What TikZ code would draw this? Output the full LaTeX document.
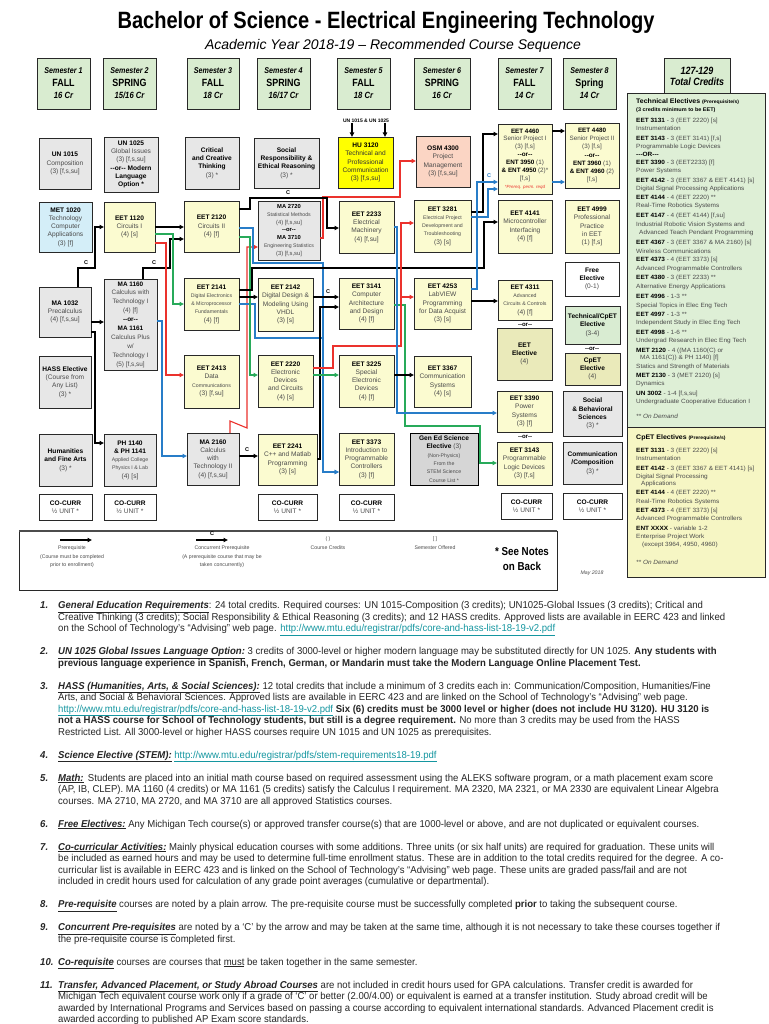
\documentclass[tikz,border=0pt]{standalone}
\usepackage{fontspec}
\setmainfont{Liberation Sans}
\newfontfamily\cond[FakeStretch=0.85]{Liberation Sans}
\newfontfamily\notef[FakeStretch=0.955]{Liberation Sans}
\newfontfamily\panelf[FakeStretch=1.06]{Liberation Sans}
\usetikzlibrary{arrows.meta}
\definecolor{hdrcol}{RGB}{217,236,208}
\definecolor{yelc}{RGB}{251,251,208}
\definecolor{gryc}{RGB}{231,231,231}
\definecolor{metcol}{RGB}{212,238,248}
\definecolor{hucol}{RGB}{255,255,0}
\definecolor{osmcol}{RGB}{251,213,196}
\definecolor{olvcol}{RGB}{234,234,186}
\definecolor{grncol}{RGB}{217,236,210}
\definecolor{techcol}{RGB}{222,239,214}
\definecolor{cpetcol}{RGB}{246,246,196}
\definecolor{gencol}{RGB}{214,214,214}
\definecolor{bord}{RGB}{40,40,40}
\definecolor{dtext}{RGB}{75,75,75}
\definecolor{redc}{RGB}{235,50,45}
\definecolor{bluc}{RGB}{40,125,200}
\definecolor{grnc}{RGB}{40,170,90}
\definecolor{linkc}{RGB}{20,150,160}
\newcommand\cd[1]{{\bfseries\color{black}#1}}
\newcommand\sm[1]{{\fontsize{5.2}{6}\selectfont #1}}
\newcommand\hs[1]{{\itshape\bfseries\fontsize{8.4}{10}\selectfont #1}}
\newcommand\hb[1]{{\bfseries\fontsize{10.5}{12}\selectfont #1}}
\newcommand\hc[1]{{\itshape\bfseries\fontsize{9}{10}\selectfont #1}}
\newcommand\cbox[7]{\node[#6,minimum width={(#4-#2)*1pt},minimum height={(#5-#3)*1pt}] (#1) at ({(#2+#4)/2},{(#3+#5)/2}) {#7};}
\newcount\tlc
\newcommand\tl[2]{\global\advance\tlc by 1\relax\node[rt] (tl\the\tlc) at (636,#1) {#2};}
\newcommand\nl[2]{\global\advance\tlc by 1\relax\node[nt] (nl\the\tlc) at (58,{605+11.5*#1+3.5}) {#2};}
\newcommand\nn[2]{\global\advance\tlc by 1\relax\node[nt,font=\notef\bfseries\itshape\fontsize{10}{11}\selectfont] (nn\the\tlc) at (40,{605+11.5*#1+3.5}) {#2};}
\newcommand\uh[1]{\underline{\textbf{\textit{#1}}}}
\newcommand\lk[1]{{\color{linkc}\underline{#1}}}
\newcommand\ec[1]{{\bfseries\color{black}#1}}
\newcommand\orx{-{}-or-{}-}
\begin{document}
\begin{tikzpicture}[x=1pt,y=-1pt,
  box/.style={draw=bord,line width=0.8pt,inner sep=0pt,outer sep=0pt,align=center,text=dtext,font=\fontsize{6.6}{8.3}\selectfont},
  yel/.style={box,fill=yelc},
  gry/.style={box,fill=gryc},
  hdr/.style={box,fill=hdrcol,text=black,font=\cond\fontsize{9}{12.5}\selectfont},
  wht/.style={box,fill=white},
  conn/.style={line width=1.1pt,-{Triangle[length=4.5pt,width=4.2pt]}},
  blk/.style={conn,draw=black},
  rdc/.style={conn,draw=redc},
  blc/.style={conn,draw=bluc},
  grc/.style={conn,draw=grnc},
  clab/.style={font=\bfseries\fontsize{5.5}{6}\selectfont,inner sep=0pt},
  ortx/.style={font=\bfseries\fontsize{6}{7}\selectfont,inner sep=0pt},
  rt/.style={anchor=base west,inner sep=0pt,text=dtext,font=\panelf\fontsize{6.1}{7}\selectfont},
  nt/.style={anchor=base west,inner sep=0pt,text=black!85,font=\notef\fontsize{10}{11}\selectfont},
  lg/.style={inner sep=0pt,text=dtext,align=center,font=\fontsize{5.2}{8.6}\selectfont}
]
\useasboundingbox (0,0) rectangle (768,1024);
\fill[white] (0,0) rectangle (768,1024);
% title
\node[inner sep=0pt,font=\cond\bfseries\fontsize{23.6}{26}\selectfont] (title) at (386,22) {Bachelor of Science - Electrical Engineering Technology};
\node[inner sep=0pt,font=\itshape\fontsize{14}{16}\selectfont] (subtitle) at (393,46) {Academic Year 2018-19 -- Recommended Course Sequence};
% semester headers
\cbox{s1}{37}{58}{90}{109}{hdr}{\hs{Semester 1}\\\hb{FALL}\\\hc{16 Cr}}
\cbox{s2}{103}{58}{156}{109}{hdr}{\hs{Semester 2}\\\hb{SPRING}\\\hc{15/16 Cr}}
\cbox{s3}{187}{58}{239}{109}{hdr}{\hs{Semester 3}\\\hb{FALL}\\\hc{18 Cr}}
\cbox{s4}{257}{58}{310}{109}{hdr}{\hs{Semester 4}\\\hb{SPRING}\\\hc{16/17 Cr}}
\cbox{s5}{337}{58}{390}{109}{hdr}{\hs{Semester 5}\\\hb{FALL}\\\hc{18 Cr}}
\cbox{s6}{414}{58}{470}{109}{hdr}{\hs{Semester 6}\\\hb{SPRING}\\\hc{16 Cr}}
\cbox{s7}{498}{58}{551}{109}{hdr}{\hs{Semester 7}\\\hb{FALL}\\\hc{14 Cr}}
\cbox{s8}{563}{58}{616}{109}{hdr}{\hs{Semester 8}\\\hb{Spring}\\\hc{14 Cr}}
\cbox{tot}{664}{58}{730}{95}{hdr}{{\itshape\bfseries\fontsize{10.5}{12}\selectfont 127-129}\\[-1pt]{\itshape\bfseries\fontsize{10.5}{12}\selectfont Total Credits}}
% right panel
\cbox{techp}{627}{93}{765}{427}{box,fill=techcol}{}
\cbox{cpetp}{627}{427}{765}{577}{box,fill=cpetcol}{}
\tl{104}{{\bfseries\color{black}\fontsize{6.6}{7}\selectfont Technical Electives} {\bfseries\color{black}\fontsize{4.8}{5}\selectfont (Prerequisite/s)}}
\tl{112}{{\bfseries\color{black}\fontsize{5.2}{6}\selectfont (3 credits minimum to be EET)}}
\tl{123}{\ec{EET 3131} - 3 (EET 2220) [s]}
\tl{131}{Instrumentation}
\tl{141}{\ec{EET 3143} - 3 (EET 3141) [f,s]}
\tl{149}{Programmable Logic Devices}
\tl{157}{\ec{---OR---}}
\tl{165}{\ec{EET 3390} - 3 (EET2233) [f]}
\tl{173}{Power Systems}
\tl{183}{\ec{EET 4142} - 3 (EET 3367 \& EET 4141) [s]}
\tl{191}{Digital Signal Processing Applications}
\tl{200}{\ec{EET 4144} - 4 (EET 2220) **}
\tl{208}{Real-Time Robotics Systems}
\tl{218}{\ec{EET 4147} - 4 (EET 4144) [f,su]}
\tl{226}{Industrial Robotic Vision Systems and}
\tl{234}{\hspace{3pt}Advanced Teach Pendant Programming}
\tl{244}{\ec{EET 4367} - 3 (EET 3367 \& MA 2160) [s]}
\tl{253}{Wireless Communications}
\tl{261}{\ec{EET 4373} - 4 (EET 3373) [s]}
\tl{270}{Advanced Programmable Controllers}
\tl{279}{\ec{EET 4380} - 3 (EET 2233) **}
\tl{288}{Alternative Energy Applications}
\tl{298}{\ec{EET 4996} - 1-3 **}
\tl{307}{Special Topics in Elec Eng Tech}
\tl{316}{\ec{EET 4997} - 1-3 **}
\tl{324}{Independent Study in Elec Eng Tech}
\tl{334}{\ec{EET 4998} - 1-6 **}
\tl{342}{Undergrad Research in Elec Eng Tech}
\tl{352}{\ec{MET 2120} - 4 ((MA 1160(C) or}
\tl{359}{\hspace{4pt}MA 1161(C)) \& PH 1140) [f]}
\tl{368}{Statics and Strength of Materials}
\tl{377}{\ec{MET 2130} - 3 (MET 2120) [s]}
\tl{385}{Dynamics}
\tl{395}{\ec{UN 3002} - 1-4 [f,s,su]}
\tl{403}{Undergraduate Cooperative Education I}
\tl{418}{\itshape ** On Demand}
\tl{439}{{\bfseries\color{black}\fontsize{6.6}{7}\selectfont CpET Electives} {\bfseries\color{black}\fontsize{4.8}{5}\selectfont (Prerequisite/s)}}
\tl{452}{\ec{EET 3131} - 3 (EET 2220) [s]}
\tl{460}{Instrumentation}
\tl{470}{\ec{EET 4142} - 3 (EET 3367 \& EET 4141) [s]}
\tl{478}{Digital Signal Processing}
\tl{485}{\hspace{5pt}Applications}
\tl{494}{\ec{EET 4144} - 4 (EET 2220) **}
\tl{503}{Real-Time Robotics Systems}
\tl{512}{\ec{EET 4373} - 4 (EET 3373) [s]}
\tl{520}{Advanced Programmable Controllers}
\tl{530}{\ec{ENT XXXX} - variable 1-2}
\tl{538}{Enterprise Project Work}
\tl{546}{\hspace{6pt}(except 3964, 4950, 4960)}
\tl{564}{\itshape ** On Demand}
% row A
\cbox{un1015}{39}{138}{91}{189}{gry}{\cd{UN 1015}\\Composition\\(3) [f,s,su]}
\cbox{un1025}{104}{137}{158}{192}{gry}{\cd{UN 1025}\\Global Issues\\(3) [f,s,su]\\\cd{\orx{} Modern}\\\cd{Language}\\\cd{Option *}}
\cbox{crit}{185}{137}{239}{189}{gry}{\cd{Critical}\\\cd{and Creative}\\\cd{Thinking}\\(3) *}
\cbox{social}{254}{138}{319}{188}{gry}{\cd{Social}\\\cd{Responsibility \&}\\\cd{Ethical Reasoning}\\(3) *}
\cbox{hu3120}{338}{137}{393}{188}{box,fill=hucol,text=black!80}{\cd{HU 3120}\\Technical and\\Professional\\Communication\\(3) [f,s,su]}
\cbox{osm4300}{416}{136}{470}{187}{box,fill=osmcol}{\cd{OSM 4300}\\Project\\Management\\(3) [f,s,su]}
\cbox{eet4460}{498}{124}{552}{194}{yel,font=\fontsize{6.3}{7.9}\selectfont}{\cd{EET 4460}\\Senior Project I\\(3) [f,s]\\\cd{\orx}\\\cd{ENT 3950} (1)\\\cd{\& ENT 4950} (2)*\\{}[f,s]\\{\color{redc}\itshape\fontsize{4.5}{5}\selectfont *Prereq. perm. reqd}}
\cbox{eet4480}{565}{123}{619}{188}{yel,font=\fontsize{6.3}{8.3}\selectfont}{\cd{EET 4480}\\Senior Project II\\(3) [f,s]\\\cd{\orx}\\\cd{ENT 3960} (1)\\\cd{\& ENT 4960} (2)\\{}[f,s]}
\node[inner sep=0pt,font=\bfseries\fontsize{5}{6}\selectfont] (unlab) at (366,121) {UN 1015 \& UN 1025};
\draw[blk] (unlab.south -| 352,0) -- (hu3120.north -| 352,0);
\draw[blk] (unlab.south -| 385,0) -- (hu3120.north -| 385,0);
% row B
\cbox{met1020}{39}{202}{92}{252}{box,fill=metcol}{\cd{MET 1020}\\Technology\\Computer\\Applications\\(3) [f]}
\cbox{eet1120}{104}{202}{155}{252}{yel}{\cd{EET 1120}\\Circuits I\\(4) [s]}
\cbox{eet2120}{184}{201}{239}{252}{yel}{\cd{EET 2120}\\Circuits II\\(4) [f]}
\cbox{ma2720}{258}{201}{320}{260}{gry,font=\fontsize{5.8}{7.9}\selectfont}{\cd{MA 2720}\\\sm{Statistical Methods}\\(4) [f,s,su]\\\cd{\orx}\\\cd{MA 3710}\\\sm{Engineering Statistics}\\(3) [f,s,su]}
\cbox{eet2233}{339}{201}{394}{253}{yel}{\cd{EET 2233}\\Electrical\\Machinery\\(4) [f,su]}
\cbox{eet3281}{414}{200}{471}{252}{yel}{\cd{EET 3281}\\\sm{Electrical Project}\\\sm{Development and}\\\sm{Troubleshooting}\\(3) [s]}
\cbox{eet4141}{498}{200}{552}{253}{yel}{\cd{EET 4141}\\Microcontroller\\Interfacing\\(4) [f]}
\cbox{eet4999}{565}{200}{619}{253}{yel}{\cd{EET 4999}\\Professional\\Practice\\in EET\\(1) [f,s]}
% row C
\cbox{ma1032}{39}{287}{91}{337}{gry}{\cd{MA 1032}\\Precalculus\\(4) [f,s,su]}
\cbox{ma1160}{104}{279}{157}{370}{gry,font=\fontsize{6.4}{8.9}\selectfont}{\cd{MA 1160}\\Calculus with\\Technology I\\(4) [f]\\\cd{\orx}\\\cd{MA 1161}\\Calculus Plus\\w/\\Technology I\\(5) [f,s,su]}
\cbox{eet2141}{184}{278}{239}{330}{yel}{\cd{EET 2141}\\\sm{Digital Electronics}\\\sm{\& Microprocessor}\\\sm{Fundamentals}\\(4) [f]}
\cbox{eet2142}{258}{278}{313}{331}{yel}{\cd{EET 2142}\\Digital Design \&\\Modeling Using\\VHDL\\(3) [s]}
\cbox{eet3141}{339}{278}{394}{329}{yel}{\cd{EET 3141}\\Computer\\Architecture\\and Design\\(4) [f]}
\cbox{eet4253}{414}{278}{471}{329}{yel}{\cd{EET 4253}\\LabVIEW\\Programming\\for Data Acquist\\(3) [s]}
\cbox{eet4311}{498}{280}{552}{320}{yel}{\cd{EET 4311}\\\sm{Advanced}\\\sm{Circuits \& Controls}\\(4) [f]}
\cbox{free}{565}{262}{619}{296}{wht}{\cd{Free}\\\cd{Elective}\\(0-1)}
\node[ortx] (or1) at (525,325) {\orx};
\cbox{eetel}{497}{328}{552}{380}{box,fill=olvcol}{\cd{EET}\\\cd{Elective}\\(4)}
\cbox{techcpet}{565}{306}{620}{344}{box,fill=grncol}{\cd{Technical/CpET}\\\cd{Elective}\\(3-4)}
\node[ortx] (or2) at (592,349) {\orx};
\cbox{cpetel}{565}{353}{620}{385}{box,fill=olvcol}{\cd{CpET}\\\cd{Elective}\\(4)}
% row D
\cbox{hass}{39}{356}{91}{408}{gry}{\cd{HASS Elective}\\(Course from\\Any List)\\(3) *}
\cbox{eet2413}{184}{355}{239}{408}{yel}{\cd{EET 2413}\\Data\\\sm{Communications}\\(3) [f,su]}
\cbox{eet2220}{258}{355}{313}{407}{yel}{\cd{EET 2220}\\Electronic\\Devices\\and Circuits\\(4) [s]}
\cbox{eet3225}{339}{355}{394}{407}{yel}{\cd{EET 3225}\\Special\\Electronic\\Devices\\(4) [f]}
\cbox{eet3367}{414}{356}{471}{407}{yel}{\cd{EET 3367}\\Communication\\Systems\\(4) [s]}
\cbox{eet3390}{497}{391}{552}{432}{yel}{\cd{EET 3390}\\Power\\Systems\\(3) [f]}
\cbox{socbeh}{563}{391}{622}{436}{gry}{\cd{Social}\\\cd{\& Behavioral}\\\cd{Sciences}\\(3) *}
\node[ortx] (or3) at (525,437) {\orx};
% row E
\cbox{hum}{39}{434}{92}{486}{gry}{\cd{Humanities}\\\cd{and Fine Arts}\\(3) *}
\cbox{ph1140}{104}{434}{156}{486}{gry}{\cd{PH 1140}\\\cd{\& PH 1141}\\\sm{Applied College}\\\sm{Physics I \& Lab}\\(4) [s]}
\cbox{ma2160}{187}{433}{239}{485}{gry}{\cd{MA 2160}\\Calculus\\with\\Technology II\\(4) [f,s,su]}
\cbox{eet2241}{258}{434}{317}{485}{yel}{\cd{EET 2241}\\C++ and Matlab\\Programming\\(3) [s]}
\cbox{eet3373}{339}{433}{394}{485}{yel}{\cd{EET 3373}\\Introduction to\\Programmable\\Controllers\\(3) [f]}
\cbox{gened}{410}{433}{478}{485}{box,fill=gencol,draw=black,line width=1pt}{\cd{Gen Ed Science}\\\cd{Elective} (3)\\\sm{(Non-Physics)}\\\sm{From the}\\\sm{STEM Science}\\\sm{Course List *}}
\cbox{eet3143}{497}{442}{552}{485}{yel}{\cd{EET 3143}\\Programmable\\Logic Devices\\(3) [f,s]}
\cbox{comm}{563}{442}{622}{484}{gry}{\cd{Communication}\\\cd{/Composition}\\(3) *}
% co-curr
\cbox{cc1}{39}{494}{92}{520}{wht}{\cd{CO-CURR}\\½ UNIT *}
\cbox{cc2}{104}{494}{156}{520}{wht}{\cd{CO-CURR}\\½ UNIT *}
\cbox{cc4}{258}{494}{317}{520}{wht}{\cd{CO-CURR}\\½ UNIT *}
\cbox{cc5}{339}{494}{394}{520}{wht}{\cd{CO-CURR}\\½ UNIT *}
\cbox{cc7}{501}{493}{552}{519}{wht}{\cd{CO-CURR}\\½ UNIT *}
\cbox{cc8}{563}{493}{622}{519}{wht}{\cd{CO-CURR}\\½ UNIT *}
% connectors
\draw[blk] (ma1032.north -| 78,0) -- (78,268) -- (95,268) -- (95,227) -- (eet1120.west |- 0,227);
\node[clab] (c1) at (86,263) {C};
\draw[blk] (eet1120.east |- 0,227) -- (eet2120.west |- 0,227);
\draw[blk] (ma1160.north -| 143,0) -- (143,268) -- (170,268) -- (170,239) -- (eet2120.west |- 0,239);
\node[clab] (c2) at (154,263) {C};
\draw[grc] (eet1120.east |- 0,234) -- (173,234) -- (173,304) -- (eet2141.west |- 0,304);
\draw[rdc] (eet1120.east |- 0,243) -- (166,243) -- (166,375) -- (eet2413.west |- 0,375);
\draw[blk] (ma1032.east |- 0,322) -- (ma1160.west |- 0,322);
\draw[blk] (ma1032.east |- 0,332) -- (95,332) -- (95,443) -- (ph1140.west |- 0,443);
\draw[blc] (ma1160.east |- 0,321) -- (162,321) -- (162,456) -- (ma2160.west |- 0,456);
\draw[blk] (ma2160.east |- 0,456) -- (eet2241.west |- 0,456);
\node[clab] (c3) at (247,450) {C};
\draw[rdc] (ma2160.north -| 230,0) -- (230,421) -- (247,428) -- (247,247) -- (ma2720.west |- 0,247);
\draw[rdc] (ma2720.east |- 0,238) -- (323,238) -- (323,197) -- (400,197) -- (400,161) -- (osm4300.west |- 0,161);
\draw[blk] (eet2120.east |- 0,209) -- (250,209) -- (250,198) -- (327,198) -- (327,228) -- (eet2233.west |- 0,228);
\node[clab] (c4) at (288,193) {C};
\draw[blc] (eet2120.east |- 0,228) -- (253,228) -- (253,263) -- (323,263) -- (323,472) -- (eet3373.west |- 0,472);
\draw[blc] (eet2141.east |- 0,304) -- (255,304) -- (255,338) -- (323,338) -- (323,472) -- (eet3373.west |- 0,472);
\draw[grc] (eet2120.east |- 0,237) -- (250,237) -- (250,375) -- (eet2220.west |- 0,375);
\draw[blk] (eet2141.east |- 0,297) -- (eet2142.west |- 0,297);
\draw[blk] (eet2141.east |- 0,290) -- (252,290) -- (252,268) -- (484,268) -- (484,222) -- (eet4141.west |- 0,222);
\draw[blk] (eet2142.east |- 0,297) -- (eet3141.west |- 0,297);
\node[clab] (c5) at (328,292) {C};
\draw[blk] (eet2241.east |- 0,459) -- (320,459) -- (320,307) -- (eet3141.west |- 0,307);
\draw[grc] (eet3141.east |- 0,305) -- (405,305) -- (405,426) -- (480,426) -- (480,463) -- (eet3143.west |- 0,463);
\draw[grc] (eet2220.east |- 0,375) -- (eet3225.west |- 0,375);
\draw[rdc] (eet2220.east |- 0,368) -- (333,368) -- (333,346) -- (401,346) -- (401,297) -- (eet4253.west |- 0,297);
\draw[rdc] (eet2220.east |- 0,368) -- (333,368) -- (333,346) -- (401,346) -- (401,223) -- (eet3281.west |- 0,223);
\draw[blc] (eet2233.east |- 0,227) -- (397,227) -- (397,413) -- (eet3390.west |- 0,413);
\draw[blk] (eet3225.east |- 0,375) -- (eet3367.west |- 0,375);
\draw[blk] (eet4253.east |- 0,301) -- (eet4311.west |- 0,301);
\draw[blk] (eet3281.east |- 0,212) -- (483,212) -- (483,134) -- (eet4460.west |- 0,134);
\draw[blc] (eet4253.east |- 0,289) -- (477,289) -- (477,182) -- (eet4460.west |- 0,182);
\node[clab,text=bluc] (c6) at (489,176) {C};
\draw[blc] (eet3281.east |- 0,217) -- (488,217) -- (488,189) -- (eet4460.west |- 0,189);
\draw[blk] (eet4460.east |- 0,131) -- (eet4480.west |- 0,131);
\draw[blc] (eet4460.east |- 0,182) -- (eet4480.west |- 0,182);
% legend
\cbox{legend}{19}{531}{557}{590}{box,fill=white,line width=0.6pt}{}
\draw[line width=2pt,draw=black!70] (legend.north west) -- (legend.north east);
\coordinate (la1) at (60,540);
\coordinate (la2) at (92,540);
\draw[blk] (la1) -- (la2);
\node[lg] (lt1) at (72,557) {Prerequisite\\(Course must be completed\\prior to enrollment)};
\coordinate (lb1) at (196,540);
\coordinate (lb2) at (228,540);
\draw[blk] (lb1) -- (lb2);
\node[clab] (lc) at (212,534) {C};
\node[lg] (lt2) at (222,557) {Concurrent Prerequisite\\(A prerequisite course that may be\\taken concurrently)};
\node[lg] (lt3) at (328,543) {( )\\Course Credits};
\node[lg] (lt4) at (435,543) {[ ]\\Semester Offered};
\node[inner sep=0pt,align=center,font=\cond\bfseries\fontsize{11.5}{15}\selectfont] (lt5) at (522,559) {* See Notes\\on Back};
\node[inner sep=0pt,font=\itshape\fontsize{5.2}{6}\selectfont,text=dtext] (may) at (592,573) {May 2018};
% notes
\nn{0}{1.}
\nl{0}{\uh{General Education Requirements}: 24 total credits. Required courses: UN 1015-Composition (3 credits); UN1025-Global Issues (3 credits); Critical and}
\nl{1}{Creative Thinking (3 credits); Social Responsibility \& Ethical Reasoning (3 credits); and 12 HASS credits. Approved lists are available in EERC 423 and linked}
\nl{2}{on the School of Technology’s “Advising” web page. \lk{http://www.mtu.edu/registrar/pdfs/core-and-hass-list-18-19-v2.pdf}}
\nn{4}{2.}
\nl{4}{\uh{UN 1025 Global Issues Language Option:} 3 credits of 3000-level or higher modern language may be substituted directly for UN 1025. \textbf{Any students with}}
\nl{5}{\textbf{previous language experience in Spanish, French, German, or Mandarin must take the Modern Language Online Placement Test.}}
\nn{7}{3.}
\nl{7}{\uh{HASS (Humanities, Arts, \& Social Sciences):} 12 total credits that include a minimum of 3 credits each in: Communication/Composition, Humanities/Fine}
\nl{8}{Arts, and Social \& Behavioral Sciences. Approved lists are available in EERC 423 and are linked on the School of Technology’s “Advising” web page.}
\nl{9}{\lk{http://www.mtu.edu/registrar/pdfs/core-and-hass-list-18-19-v2.pdf} \textbf{Six (6) credits must be 3000 level or higher (does not include HU 3120). HU 3120 is}}
\nl{10}{\textbf{not a HASS course for School of Technology students, but still is a degree requirement.} No more than 3 credits may be used from the HASS}
\nl{11}{Restricted List. All 3000-level or higher HASS courses require UN 1015 and UN 1025 as prerequisites.}
\nn{13}{4.}
\nl{13}{\uh{Science Elective (STEM):} \lk{http://www.mtu.edu/registrar/pdfs/stem-requirements18-19.pdf}}
\nn{15}{5.}
\nl{15}{\uh{Math:}\, Students are placed into an initial math course based on required assessment using the ALEKS software program, or a math placement exam score}
\nl{16}{(AP, IB, CLEP). MA 1160 (4 credits) or MA 1161 (5 credits) satisfy the Calculus I requirement. MA 2320, MA 2321, or MA 2330 are equivalent Linear Algebra}
\nl{17}{courses. MA 2710, MA 2720, and MA 3710 are all approved Statistics courses.}
\nn{19}{6.}
\nl{19}{\uh{Free Electives:} Any Michigan Tech course(s) or approved transfer course(s) that are 1000-level or above, and are not duplicated or equivalent courses.}
\nn{21}{7.}
\nl{21}{\uh{Co-curricular Activities:} Mainly physical education courses with some additions. Three units (or six half units) are required for graduation. These units will}
\nl{22}{be included as earned hours and may be used to determine full-time enrollment status. These are in addition to the total credits required for the degree. A co-}
\nl{23}{curricular list is available in EERC 423 and is linked on the School of Technology’s “Advising” web page. These units are graded pass/fail and are not}
\nl{24}{included in credit hours used for calculation of any grade point averages (cumulative or departmental).}
\nn{26}{8.}
\nl{26}{\uh{Pre-requisite} courses are noted by a plain arrow. The pre-requisite course must be successfully completed \textbf{prior} to taking the subsequent course.}
\nn{28}{9.}
\nl{28}{\uh{Concurrent Pre-requisites} are noted by a ‘C’ by the arrow and may be taken at the same time, although it is not necessary to take these courses together if}
\nl{29}{the pre-requisite course is completed first.}
\nn{31}{10.}
\nl{31}{\uh{Co-requisite} courses are courses that \underline{must} be taken together in the same semester.}
\nn{33}{11.}
\nl{33}{\uh{Transfer, Advanced Placement, or Study Abroad Courses} are not included in credit hours used for GPA calculations. Transfer credit is awarded for}
\nl{34}{Michigan Tech equivalent course work only if a grade of ‘C’ or better (2.00/4.00) or equivalent is earned at a transfer institution. Study abroad credit will be}
\nl{35}{awarded by International Programs and Services based on passing a course according to equivalent international standards. Advanced Placement credit is}
\nl{36}{awarded according to published AP Exam score standards.}
\end{tikzpicture}
\end{document}
